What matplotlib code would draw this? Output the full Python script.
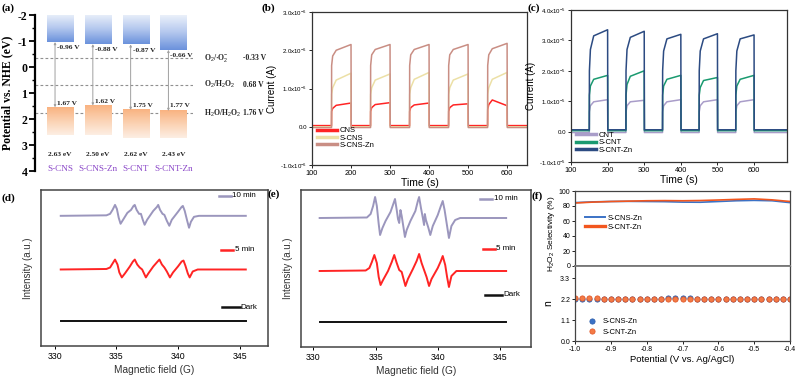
import numpy as np
import matplotlib
matplotlib.use('Agg')
import matplotlib.pyplot as plt
from matplotlib.colors import LinearSegmentedColormap

plt.rcParams['font.family'] = ['Liberation Sans', 'DejaVu Sans']
plt.rcParams['mathtext.fontset'] = 'custom'
plt.rcParams['mathtext.rm'] = 'Liberation Sans'

W, H = 799, 379
fig = plt.figure(figsize=(W / 100, H / 100), dpi=100)


def axpx(x0, y0, x1, y1):
    return fig.add_axes([x0 / W, 1 - y1 / H, (x1 - x0) / W, (y1 - y0) / H])


# ---------------- data ----------------
# (a) band structure
samples = ['S-CNS', 'S-CNS-Zn', 'S-CNT', 'S-CNT-Zn']
cb = [-0.96, -0.88, -0.87, -0.66]
vb = [1.67, 1.62, 1.75, 1.77]
gaps = ['2.63 eV', '2.50 eV', '2.62 eV', '2.43 eV']
vb_edge = [1.55, 1.48, 1.65, 1.69]
vb_low = [2.62, 2.60, 2.73, 2.75]
redox_names = ['O$_2$/·O$_2^{-}$', 'O$_2$/H$_2$O$_2$', 'H$_2$O/H$_2$O$_2$']
redox_vals = [-0.33, 0.68, 1.76]

# (b), (c) photocurrent: light on/off times and levels per pulse
t_on = [150, 250, 350, 450, 550]
t_off = [200, 300, 400, 500, 600]
knots = [0.3, 3, 12, 50]   # s after switching on
b_names = ['CNS', 'S-CNS', 'S-CNS-Zn']
b_base = [0.03, 0.0, -0.02]
b_levels = [
    [[0.40, 0.48, 0.56, 0.62], [0.40, 0.50, 0.58, 0.63], [0.40, 0.50, 0.57, 0.62],
     [0.40, 0.50, 0.57, 0.60], [0.45, 0.58, 0.70, 0.55]],
    [[0.85, 1.02, 1.22, 1.40], [0.85, 1.02, 1.22, 1.38], [0.85, 1.02, 1.24, 1.42],
     [0.85, 1.02, 1.22, 1.38], [0.85, 1.02, 1.24, 1.42]],
    [[1.60, 1.85, 2.00, 2.15], [1.60, 1.88, 2.02, 2.15], [1.60, 1.88, 2.02, 2.15],
     [1.60, 1.88, 2.02, 2.15], [1.60, 1.88, 2.04, 2.18]],
]
c_names = ['CNT', 'S-CNT', 'S-CNT-Zn']
c_base = [-0.03, 0.03, 0.06]
c_levels = [
    [[0.65, 0.85, 0.98, 1.05], [0.65, 0.85, 0.98, 1.03], [0.65, 0.85, 0.98, 1.05],
     [0.65, 0.85, 0.98, 1.05], [0.65, 0.85, 0.98, 1.05]],
    [[1.20, 1.50, 1.72, 1.85], [1.20, 1.55, 1.82, 2.00], [1.20, 1.50, 1.72, 1.85],
     [1.20, 1.45, 1.68, 1.78], [1.20, 1.50, 1.72, 1.85]],
    [[2.00, 2.70, 3.15, 3.35], [2.00, 2.70, 3.10, 3.30], [2.00, 2.65, 3.05, 3.20],
     [2.00, 2.65, 3.05, 3.22], [2.00, 2.65, 3.05, 3.18]],
]

# (d), (e) EPR spectra (field in G, intensity offset from baseline)
d10_x = [330.5, 334.2, 334.5, 334.7, 334.9, 335.05, 335.2, 335.35, 335.55, 335.9, 336.2,
         336.4, 336.5, 336.65, 336.85, 337.0, 337.15, 337.3, 337.5, 338.0, 338.3, 338.4,
         338.55, 338.75, 338.9, 339.1, 339.3, 339.5, 340.0, 340.3, 340.4, 340.55, 340.75,
         340.9, 341.05, 341.3, 341.7, 345.5]
d10_y = [0, 0.5, 2, 6, 11, 7, -2, -8, -4, 3, 6, 10, 11, 6, 2, 2, -4, -9, -4, 5, 9, 11,
         6, 2, 1, -5, -10, -4, 4, 9, 10, 5, -5, -12, -6, -1, 0, 0]
d5_x = [330.5, 334.2, 334.5, 334.7, 334.9, 335.1, 335.25, 335.45, 335.7, 336.1, 336.35,
        336.5, 336.7, 336.9, 337.1, 337.25, 337.4, 337.6, 338.0, 338.35, 338.5, 338.7,
        338.9, 339.1, 339.35, 339.6, 340.0, 340.3, 340.45, 340.6, 340.8, 340.95, 341.2,
        341.6, 345.5]
d5_y = [0, 0.5, 2, 6, 10, 5, -3, -8, -4, 3, 8, 10, 5, 2, 0, -4, -8, -4, 3, 8, 10, 5,
        2, -2, -8, -3, 3, 8, 9, 4, -4, -8, -2, 0, 0]
e10_x = [330.5, 334.3, 334.6, 334.8, 334.96, 335.1, 335.25, 335.36, 335.55, 335.8, 336.2,
         336.45, 336.56, 336.7, 336.8, 336.9, 337.0, 337.1, 337.25, 337.36, 337.5, 337.8,
         338.2, 338.4, 338.5, 338.65, 338.8, 338.9, 338.96, 339.05, 339.25, 339.4, 339.6,
         340.0, 340.25, 340.4, 340.55, 340.75, 340.9, 341.1, 341.4, 341.8, 345.5]
e10_y = [0, 0.5, 4, 12, 21, 12, -6, -17, -10, -3, 6, 15, 19, 8, -1, -5, 8, 2, -10, -19,
         -12, -3, 7, 17, 21, 10, 0, -7, 4, -2, -10, -17, -8, 3, 12, 17, 8, -8, -20, -8,
         -2, 0, 0]
e5_x = [330.5, 334.2, 334.5, 334.7, 334.9, 335.1, 335.25, 335.4, 335.6, 336.0, 336.3,
        336.5, 336.7, 336.9, 337.1, 337.25, 337.4, 337.6, 338.0, 338.3, 338.5, 338.7,
        338.9, 339.1, 339.3, 339.5, 340.0, 340.25, 340.4, 340.6, 340.75, 340.9, 341.1,
        341.5, 345.5]
e5_y = [0, 0.5, 3, 9, 16, 8, -6, -14, -9, 0, 9, 16, 8, 1, -1, -8, -15, -8, 2, 10, 17, 8,
        1, -6, -15, -8, 3, 10, 15, 6, -6, -16, -5, 0, 0]
dark_x = [330.5, 345.5]
dark_y = [0, 0]

# (f) selectivity and electron transfer number
pot = [-1.0, -0.95, -0.9, -0.85, -0.8, -0.75, -0.7, -0.65, -0.6, -0.55, -0.5, -0.45, -0.4]
sel_cns = [84.5, 85.5, 86.0, 86.2, 86.0, 85.8, 85.2, 85.0, 86.0, 87.0, 87.5, 87.0, 84.5]
sel_cnt = [84.0, 85.2, 86.0, 86.5, 87.0, 87.2, 87.0, 87.3, 88.0, 88.8, 89.5, 88.2, 86.0]
pot_n = np.round(np.arange(-1.0, -0.399, 0.02), 2)
n_cnt = [2.25, 2.24, 2.24, 2.23, 2.22, 2.22, 2.21, 2.21, 2.21, 2.21, 2.21, 2.21, 2.21, 2.21,
         2.21, 2.22, 2.21, 2.21, 2.21, 2.20, 2.20, 2.19, 2.19, 2.18, 2.18, 2.18, 2.18, 2.19,
         2.20, 2.21, 2.22]
n_cns = [2.22, 2.22, 2.21, 2.21, 2.21, 2.21, 2.21, 2.21, 2.21, 2.22, 2.22, 2.22, 2.22, 2.23,
         2.23, 2.23, 2.23, 2.22, 2.22, 2.21, 2.21, 2.20, 2.20, 2.20, 2.19, 2.19, 2.19, 2.20,
         2.20, 2.21, 2.21]

serif = 'Liberation Serif'
purple = '#8a46c8'


def label(x, y, s):
    fig.text(x / W, 1 - y / H, s, fontsize=8, fontweight='bold', family=serif,
             ha='left', va='center')


# ---------------- (a) ----------------
ax = axpx(35, 15, 193, 171)
pos = np.arange(len(samples))
bw = 0.69
cmap_b = LinearSegmentedColormap.from_list('b', ['#eaf0fa', '#b3c7ee', '#6b92dc'])
cmap_o = LinearSegmentedColormap.from_list('o', ['#f9b381', '#fbd2b3', '#fdeee3'])
grad = np.linspace(0, 1, 64).reshape(-1, 1)
for i, x in enumerate(pos):
    ax.imshow(grad, cmap=cmap_b, extent=(x - bw / 2, x + bw / 2, cb[i], -2),
              origin='upper', aspect='auto', zorder=2)
    ax.imshow(grad, cmap=cmap_o, extent=(x - bw / 2, x + bw / 2, vb_low[i], vb_edge[i]),
              origin='upper', aspect='auto', zorder=2)
    xl = x - 0.13
    ax.annotate('', xy=(xl, vb_edge[i]), xytext=(xl, cb[i]),
                arrowprops=dict(arrowstyle='<|-|>', color='#a0a0a0', lw=0.7,
                                shrinkA=0, shrinkB=0, mutation_scale=3), zorder=3)
    ax.text(xl + 0.05, cb[i] + 0.22, f'{cb[i]:.2f} V', fontsize=5.3, family=serif,
            fontweight='bold', ha='left', va='center', color='#222')
    ax.text(xl + 0.05, vb[i] - 0.28, f'{vb[i]:.2f} V', fontsize=5.3, family=serif,
            fontweight='bold', ha='left', va='center', color='#222')
    ax.text(x, 3.38, gaps[i], fontsize=5.3, family=serif, fontweight='bold',
            ha='center', va='center', color='#222')
    ax.text(x, 3.92, samples[i], fontsize=6.6, family=serif, ha='center',
            va='center', color=purple)
for name, v in zip(redox_names, redox_vals):
    ax.axhline(v, color='#909090', lw=0.8, ls=(0, (2.5, 2)), zorder=1)
    ax.text(3.8, v, name, fontsize=5.5, family=serif, fontweight='bold',
            ha='left', va='center', color='#222')
    ax.text(4.83, v, f'{v:.2f} V', fontsize=5.5, family=serif, fontweight='bold',
            ha='left', va='center', color='#222')
ax.set_xlim(-0.66, 3.52)
ax.set_ylim(4, -2)
ax.set_yticks(range(-2, 5))
ax.set_yticks(np.arange(-2, 4.01, 0.5), minor=True)
ax.set_yticklabels([str(v) for v in range(-2, 5)])
ax.set_xticks([])
for s in ['top', 'right', 'bottom']:
    ax.spines[s].set_visible(False)
ax.spines['left'].set_linewidth(1.6)
ax.tick_params(axis='y', which='major', length=4, width=1.3, labelsize=8.5, pad=1.5)
ax.tick_params(axis='y', which='minor', length=2, width=1)
for t in ax.get_yticklabels():
    t.set_fontfamily(serif)
    t.set_fontweight('bold')
ax.set_ylabel('Potential vs. NHE (eV)', fontsize=8.5, family=serif, fontweight='bold',
              labelpad=3)
ax.patch.set_alpha(0)
label(2, 8, '(a)')


def photocurrent(base, levels):
    t = [100]
    y = [base]
    for k in range(len(t_on)):
        t.append(t_on[k])
        y.append(base)
        for off, lv in zip(knots, levels[k]):
            t.append(t_on[k] + off)
            y.append(lv)
        t.append(t_off[k] + 0.5)
        y.append(base)
    t.append(700)
    y.append(base)
    return t, y


def style_pc(ax, exp, xmax):
    top = 4 if exp == 5 else 3
    ax.set_xlim(100, xmax)
    ax.set_ylim(-1, top)
    ticks = list(range(-1, top + 1))
    ax.set_yticks(ticks)
    labs = ['0.0' if v == 0 else f'{v:.1f}x10$^{{-{exp}}}$' for v in ticks]
    ax.set_yticklabels(labs)
    ax.set_xticks([100, 200, 300, 400, 500, 600])
    ax.tick_params(axis='both', labelsize=4.4, length=2, width=0.6, pad=1.5)
    ax.tick_params(axis='x', labelsize=5.3)
    for s in ax.spines.values():
        s.set_linewidth(0.9)
        s.set_color('#333')
    ax.set_xlabel('Time (s)', fontsize=7.5, labelpad=0.5)
    ax.set_ylabel('Current (A)', fontsize=7, labelpad=2)


def pc_legend(ax, anchor):
    leg = ax.legend(loc='lower left', bbox_to_anchor=anchor, fontsize=5.5, frameon=False,
                    handlelength=2.6, labelspacing=0.0, borderpad=0.2, handletextpad=0.3)
    for l in leg.get_lines():
        l.set_linewidth(2.5)


# ---------------- (b) ----------------
ax = axpx(312, 12, 527, 165)
b_colors = ['#ff2424', '#ece0a6', '#c98e84']
for name, base, lv, col in zip(b_names, b_base, b_levels, b_colors):
    t, y = photocurrent(base, lv)
    ax.plot(t, y, color=col, lw=1.1, label=name, solid_joinstyle='round')
style_pc(ax, 6, 651)
pc_legend(ax, (0.0, 0.07))
label(262, 8, '(b)')

# ---------------- (c) ----------------
ax = axpx(571, 10, 787, 162)
c_colors = ['#a99dc9', '#1a9a70', '#2c4b82']
for name, base, lv, col in zip(c_names, c_base, c_levels, c_colors):
    t, y = photocurrent(base, lv)
    ax.plot(t, y, color=col, lw=1.1, label=name, solid_joinstyle='round')
style_pc(ax, 5, 690)
pc_legend(ax, (0.0, 0.02))
label(528, 8, '(c)')


# ---------------- (d), (e) ----------------
def epr(ax, curves, legpos):
    cols = ['#9b96bd', '#ff2424', '#111111']
    names = ['10 min', '5 min', 'Dark']
    for (x, y, base), col in zip(curves, cols):
        ax.plot(x, np.array(y) + base, color=col, lw=1.4, solid_joinstyle='round')
    for (lx, ly, ln), col, nm in zip(legpos, cols, names):
        ax.plot([lx, lx + ln], [ly, ly], color=col, lw=1.8, clip_on=False)
        ax.text(lx + ln + 0.1, ly, nm, fontsize=5.8, ha='left', va='center')
    ax.set_ylim(0, 157)
    ax.set_yticks([])
    ax.set_xticks([330, 335, 340, 345])
    ax.tick_params(axis='x', labelsize=6.3, length=2.5, width=0.7, pad=2)
    for s in ax.spines.values():
        s.set_linewidth(1.1)
        s.set_color('#444')
    ax.set_xlabel('Magnetic field (G)', fontsize=7.3, labelpad=3, color='#333')
    ax.set_ylabel('Intensity (a.u.)', fontsize=7, labelpad=6, color='#333')


ax = axpx(41, 190, 268, 346)
epr(ax, [(d10_x, d10_y, 131), (d5_x, d5_y, 77), (dark_x, dark_y, 25)],
    [(343.3, 151, 1.0), (343.5, 97, 1.0), (343.6, 39, 1.4)])
ax.set_xlim(328.9, 347.3)
label(2, 198, '(d)')

ax = axpx(301, 190, 531, 347)
epr(ax, [(e10_x, e10_y, 129), (e5_x, e5_y, 76), (dark_x, dark_y, 25)],
    [(343.4, 148, 1.0), (343.6, 98, 1.0), (343.8, 52, 1.4)])
ax.set_xlim(329.0, 347.5)
label(268, 194, '(e)')

# ---------------- (f) ----------------
ax1 = axpx(575, 191, 790, 266)
ax2 = axpx(575, 266, 790, 341)
ax1.plot(pot, sel_cns, color='#3b72c6', lw=1.2, label='S-CNS-Zn')
ax1.plot(pot, sel_cnt, color='#f2561e', lw=1.2, label='S-CNT-Zn')
ax1.set_ylim(0, 100)
ax1.set_yticks(range(0, 101, 20))
ax1.set_xticks([])
leg = ax1.legend(loc='center left', bbox_to_anchor=(0.02, 0.58), fontsize=5.5,
                 frameon=False, handlelength=2.6, labelspacing=0.2, borderpad=0.2,
                 handletextpad=0.4)
leg.get_lines()[0].set_linewidth(1.4)
leg.get_lines()[1].set_linewidth(2.4)
ax1.set_ylabel('H$_2$O$_2$ Selectivity (%)', fontsize=6.0, labelpad=2)
ax1.yaxis.set_label_coords(-0.085, 0.43)

ax2.plot(pot_n, n_cns, 'o', ms=3.8, mfc='#3b72c6', mec='#2a5aa8', mew=0.5, label='S-CNS-Zn')
ax2.plot(pot_n, n_cnt, 'o', ms=3.8, mfc='#f47a45', mec='#e05424', mew=0.5, label='S-CNT-Zn')
ax2.set_ylim(0, 3.93)
ax2.set_yticks([0.0, 1.1, 2.2, 3.3])
ax2.set_yticklabels(['0.0', '1.1', '2.2', '3.3'])
ax2.set_xticks([-1.0, -0.9, -0.8, -0.7, -0.6, -0.5, -0.4])
ax2.set_xticklabels(['-1.0', '-0.9', '-0.8', '-0.7', '-0.6', '-0.5', '-0.4'])
ax2.legend(loc='lower left', bbox_to_anchor=(0.02, 0.0), fontsize=5.5, frameon=False,
           handletextpad=0.3, labelspacing=0.4, borderpad=0.2, markerscale=1.0)
ax2.set_ylabel('n', fontsize=7.5)
ax2.yaxis.set_label_coords(-0.1, 0.5)
ax2.set_xlabel('Potential (V vs. Ag/AgCl)', fontsize=6.8, labelpad=1.5)
for a in (ax1, ax2):
    a.set_xlim(-1.0, -0.4)
    a.tick_params(axis='both', labelsize=5, length=2, width=0.6, pad=1.5)
    for s in a.spines.values():
        s.set_linewidth(0.9)
        s.set_color('#444')
ax1.spines['bottom'].set_linewidth(1.3)
ax1.spines['bottom'].set_color('#777')
ax2.spines['top'].set_linewidth(1.3)
ax2.spines['top'].set_color('#777')
label(531, 196, '(f)')

fig.savefig('out.png', dpi=100)
